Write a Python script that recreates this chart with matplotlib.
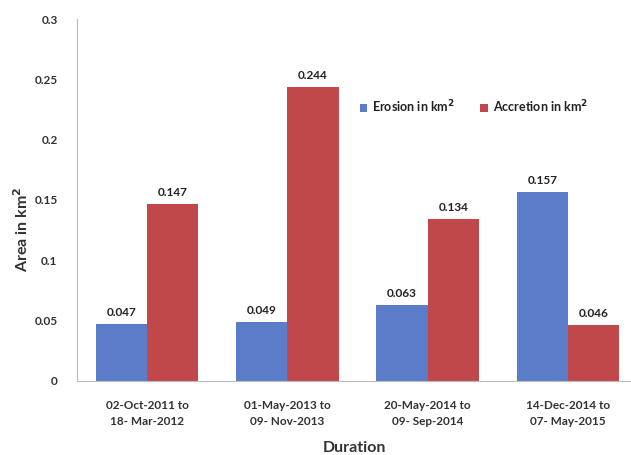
import numpy as np
import matplotlib.pyplot as plt

plt.rcParams['font.family'] = ['Lato', 'DejaVu Sans']

durations = ['02-Oct-2011 to\n18- Mar-2012', '01-May-2013 to\n09- Nov-2013',
             '20-May-2014 to\n09- Sep-2014', '14-Dec-2014 to\n07- May-2015']
erosion = [0.047, 0.049, 0.063, 0.157]
accretion = [0.147, 0.244, 0.134, 0.046]

x = np.arange(len(durations))
w = 0.365

fig = plt.figure(figsize=(6.31, 4.55), dpi=100)
ax = fig.add_axes([0.122, 0.163, 0.878, 0.795])

b1 = ax.bar(x - w / 2, erosion, w, color='#5B7CC8', label='Erosion in km$^\\mathbf{2}$')
b2 = ax.bar(x + w / 2, accretion, w, color='#C0484B', label='Accretion in km$^\\mathbf{2}$')

for bars, vals in ((b1, erosion), (b2, accretion)):
    for b, v in zip(bars, vals):
        ax.text(b.get_x() + b.get_width() / 2, v + 0.005, '%g' % v,
                ha='center', va='bottom', fontsize=8.5, fontweight='bold', color='#222222')

ax.set_xlim(-0.5, 3.45)
ax.set_ylim(0, 0.3)
ax.set_yticks([0, 0.05, 0.1, 0.15, 0.2, 0.25, 0.3])
ax.set_yticklabels(['0', '0.05', '0.1', '0.15', '0.2', '0.25', '0.3'])
ax.set_xticks(x)
ax.set_xticklabels(durations, linespacing=1.5)
ax.tick_params(axis='both', length=0, labelsize=8.5, colors='#333333')
ax.tick_params(axis='y', pad=14)
ax.tick_params(axis='x', pad=14)
for lab in ax.get_xticklabels() + ax.get_yticklabels():
    lab.set_fontweight('bold')

for s in ['top', 'right']:
    ax.spines[s].set_visible(False)
for s in ['left', 'bottom']:
    ax.spines[s].set_color('#bbbbbb')

ax.set_ylabel('Area in km$^\\mathbf{2}$', fontsize=11.5, fontweight='bold', color='#333333')
ax.yaxis.set_label_coords(-0.083, 0.42)
ax.set_xlabel('Duration', fontsize=11.5, fontweight='bold', color='#333333', labelpad=10)

leg = ax.legend(loc='center left', bbox_to_anchor=(0.49, 0.757), ncol=2, frameon=False,
                fontsize=9, handlelength=0.6, handleheight=0.6, columnspacing=2.0,
                handletextpad=0.4)
for t in leg.get_texts():
    t.set_fontweight('bold')
    t.set_color('#222222')

fig.savefig('out.png', dpi=100)
